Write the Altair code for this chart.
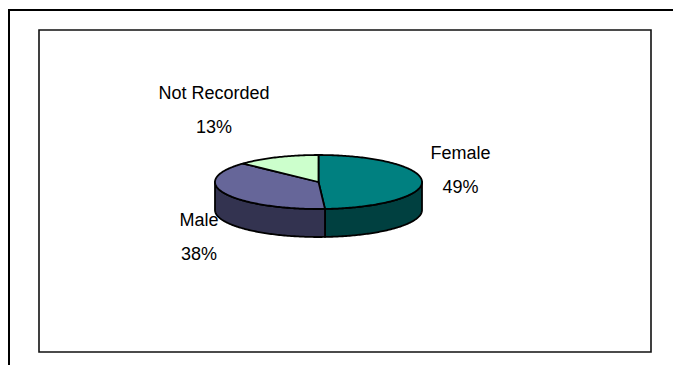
import math

import altair as alt
import pandas as pd

# Share of records by gender
categories = ["Female", "Male", "Not Recorded"]
shares = [49, 38, 13]

# Slice colours: lid and the darker wall underneath
top_colors = ["#008080", "#666699", "#CCFFCC"]
side_colors = ["#004040", "#333350", "#668066"]

# Label block centres, in pie-radius units (x right, y up)
label_u = [1.372, -1.155, -1.01]
label_v = [0.39, -2.06, 2.63]

# Plot-area geometry (px)
W, H = 612, 322
RX, RY = 103.5, 27.0       # tilted-disc radii
CX, CY = 279.5, 152.0      # disc centre inside the plot area
DEPTH = 28.0 / RY          # wall height in y units
LINE_GAP = 17.0 / RY       # half the spacing between label lines

x_dom = [-CX / RX, (W - CX) / RX]
y_dom = [-(H - CY) / RY, CY / RY]


def sweep(a1, a2, step=1.0):
    n = max(2, int(math.ceil((a2 - a1) / step)) + 1)
    return [a1 + (a2 - a1) * k / (n - 1) for k in range(n)]


def point(a, drop=0.0):
    r = math.radians(a)
    return math.sin(r), math.cos(r) - drop


tops, walls, labels = [], [], []
total = float(sum(shares))
start = 0.0  # 12 o'clock, running clockwise
for cat, share, tc, sc, lu, lv in zip(categories, shares, top_colors,
                                      side_colors, label_u, label_v):
    a1, a2 = start, start + 360.0 * share / total
    start = a2

    lid = [(0.0, 0.0)] + [point(a) for a in sweep(a1, a2)]
    for i, (u, v) in enumerate(lid):
        tops.append({"slice": cat, "i": i, "u": u, "v": v, "color": tc})

    # only the front half of the wall can be seen
    b1, b2 = max(a1, 90.0), min(a2, 270.0)
    if b2 > b1:
        angs = sweep(b1, b2)
        ring = [point(a) for a in angs] + [point(a, DEPTH) for a in reversed(angs)]
        for i, (u, v) in enumerate(ring):
            walls.append({"slice": cat, "i": i, "u": u, "v": v, "color": sc})

    labels.append({"text": cat, "u": lu, "v": lv + LINE_GAP})
    labels.append({"text": f"{share}%", "u": lu, "v": lv - LINE_GAP})

x_enc = alt.X("u:Q", scale=alt.Scale(domain=x_dom, nice=False, zero=False), axis=None)
y_enc = alt.Y("v:Q", scale=alt.Scale(domain=y_dom, nice=False, zero=False), axis=None)


def polygons(df):
    return alt.Chart(df).mark_line(
        interpolate="linear-closed", stroke="black", strokeWidth=1.8,
        strokeJoin="round", clip=False,
    ).encode(
        x=x_enc, y=y_enc, order="i:Q", detail="slice:N",
        fill=alt.Fill("color:N", scale=None),
    )


wall_layer = polygons(pd.DataFrame(walls))
top_layer = polygons(pd.DataFrame(tops))

text_layer = alt.Chart(pd.DataFrame(labels)).mark_text(
    font="Liberation Sans", fontSize=18, color="black",
    align="center", baseline="middle",
).encode(x=x_enc, y=y_enc, text="text:N")

# chart-area border: its top and left edges, running off the canvas
one = pd.DataFrame({"k": [0]})
frame_top = alt.Chart(one).mark_rule(
    stroke="black", strokeWidth=2, clip=False,
).encode(x=alt.value(-31), x2=alt.value(W + 40), y=alt.value(-20))
frame_left = alt.Chart(one).mark_rule(
    stroke="black", strokeWidth=2, clip=False,
).encode(x=alt.value(-30), y=alt.value(-21), y2=alt.value(H + 20))

chart = alt.layer(frame_top, frame_left, wall_layer, top_layer, text_layer).properties(
    width=W, height=H,
    autosize=alt.AutoSizeParams(type="none"),
    padding={"left": 39, "top": 30, "right": 22, "bottom": 13},
    background="white",
).configure_view(
    stroke="#111111", strokeWidth=1.6,
)

chart.save("out.html", embed_options={"renderer": "svg", "actions": False})
